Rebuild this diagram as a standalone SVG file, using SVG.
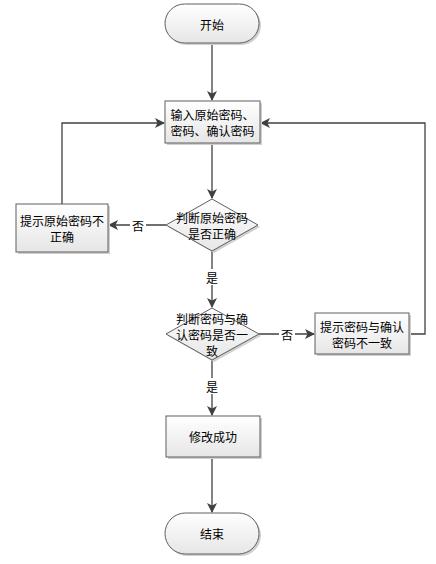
<svg xmlns="http://www.w3.org/2000/svg" width="436" height="564" viewBox="0 0 436 564">
<style>
.node{fill:url(#g);stroke:#5e5e5e;stroke-width:1}
.sh{fill:#d0d0d0;stroke:none}
.t{font-family:"Noto Sans CJK SC","Liberation Sans",sans-serif;font-size:12px;fill:#000;text-anchor:middle;dominant-baseline:central}
.c{fill:none;stroke:#404040;stroke-width:1.3}
.lb{fill:#fff}
</style>
<defs>
<linearGradient id="g" x1="0" y1="0" x2="0" y2="1">
<stop offset="0" stop-color="#ffffff"/>
<stop offset="1" stop-color="#e6e6e6"/>
</linearGradient>
<marker id="a" markerWidth="10" markerHeight="10" refX="9" refY="5" orient="auto" markerUnits="userSpaceOnUse">
<path d="M0,0 L10,5 L0,10 L2.5,5 Z" fill="#404040"/>
</marker>
</defs>
<g id="connectors">
<path class="c" d="M212,43 V100" marker-end="url(#a)"/>
<path class="c" d="M212,143 V198" marker-end="url(#a)"/>
<path class="c" d="M166,225 H109" marker-end="url(#a)"/>
<path class="c" d="M62,204 V123 H164" marker-end="url(#a)"/>
<path class="c" d="M212,251 V307" marker-end="url(#a)"/>
<path class="c" d="M259,334 H314" marker-end="url(#a)"/>
<path class="c" d="M409,334 H425 V123 H261" marker-end="url(#a)"/>
<path class="c" d="M212,360 V415" marker-end="url(#a)"/>
<path class="c" d="M212,457 V512" marker-end="url(#a)"/>
<rect class="lb" x="130" y="217" width="16" height="16"/>
<text class="t" x="138" y="225">否</text>
<rect class="lb" x="204" y="269" width="16" height="16"/>
<text class="t" x="212" y="277">是</text>
<rect class="lb" x="279" y="326" width="16" height="16"/>
<text class="t" x="287" y="334">否</text>
<rect class="lb" x="204" y="378" width="16" height="16"/>
<text class="t" x="212" y="386">是</text>
</g>
<g id="start">
<rect class="sh" x="167" y="6" width="94" height="39" rx="19.5"/>
<rect class="node" x="165" y="4" width="94" height="39" rx="19.5"/>
<text class="t" x="212" y="24">开始</text>
</g>
<g id="input">
<rect class="sh" x="167" y="103" width="95" height="42"/>
<rect class="node" x="165" y="101" width="95" height="42"/>
<text class="t" x="212.5" y="114">输入原始密码、</text>
<text class="t" x="212.5" y="130">密码、确认密码</text>
</g>
<g id="check1">
<path class="sh" d="M214,201 L260,227 L214,253 L168,227 Z"/>
<path class="node" d="M212,199 L258,225 L212,251 L166,225 Z"/>
<text class="t" x="212" y="217">判断原始密码</text>
<text class="t" x="212" y="233">是否正确</text>
</g>
<g id="err1">
<rect class="sh" x="18" y="206" width="92" height="48"/>
<rect class="node" x="16" y="204" width="92" height="48"/>
<text class="t" x="62" y="220">提示原始密码不</text>
<text class="t" x="62" y="236">正确</text>
</g>
<g id="check2">
<path class="sh" d="M214,310 L261,336 L214,362 L168,336 Z"/>
<path class="node" d="M212,308 L259,334 L212,360 L166,334 Z"/>
<text class="t" x="212" y="318">判断密码与确</text>
<text class="t" x="212" y="334">认密码是否一</text>
<text class="t" x="212" y="350">致</text>
</g>
<g id="err2">
<rect class="sh" x="317" y="315" width="94" height="41"/>
<rect class="node" x="315" y="313" width="94" height="41"/>
<text class="t" x="362" y="326">提示密码与确认</text>
<text class="t" x="362" y="342">密码不一致</text>
</g>
<g id="success">
<rect class="sh" x="168" y="418" width="94" height="41"/>
<rect class="node" x="166" y="416" width="94" height="41"/>
<text class="t" x="213" y="436.5">修改成功</text>
</g>
<g id="end">
<rect class="sh" x="167" y="515" width="94" height="41" rx="20.5"/>
<rect class="node" x="165" y="513" width="94" height="41" rx="20.5"/>
<text class="t" x="212" y="533.5">结束</text>
</g>
</svg>
